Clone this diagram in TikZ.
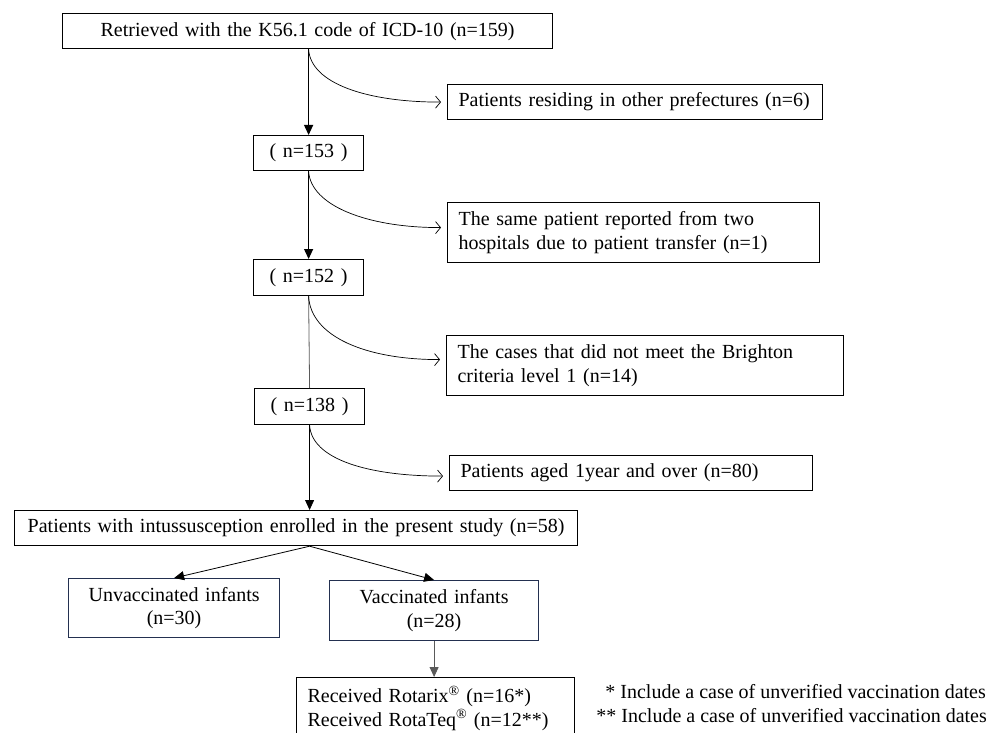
\documentclass[tikz,border=0pt]{standalone}
\usepackage{fontspec}
\setmainfont{Liberation Serif}
\usetikzlibrary{arrows.meta}
\definecolor{navyb}{RGB}{35,48,80}
\definecolor{grayline}{RGB}{90,90,90}
\begin{document}
\begin{tikzpicture}[x=1pt,y=-1pt,
  txt/.style={font=\fontsize{20}{23.5}\selectfont},
  box/.style={txt, draw=black, line width=1.2pt, rectangle, anchor=north west, inner ysep=0pt},
  cbox/.style={box, align=center, inner xsep=0pt},
  lbox/.style={box, align=left, inner xsep=11pt},
  nbox/.style={cbox, draw=navyb},
  mainarrow/.style={line width=1.2pt, -{Triangle[width=9pt,length=10pt]}},
  thinarrow/.style={line width=0.8pt, -{Triangle[width=9pt,length=10pt]}},
  plainline/.style={line width=0.8pt, draw=grayline},
  curvearrow/.style={line width=0.7pt, -{Straight Barb[length=5pt,width=12pt]}}
]
\useasboundingbox (0,0) rectangle (988,733);
\clip (0,0) rectangle (988,733);

% main column
\node[cbox, minimum width=490pt, minimum height=35pt, text width=490pt] (top) at (62,13) {Retrieved with the K56.1 code of ICD-10 (n=159)};
\node[cbox, minimum width=110pt, minimum height=35pt, text width=110pt] (n153) at (253,135) {( n=153 )};
\node[cbox, minimum width=110pt, minimum height=36pt, text width=110pt] (n152) at (253,259) {( n=152 )};
\node[cbox, minimum width=110pt, minimum height=36pt, text width=110pt] (n138) at (254,388) {( n=138 )};
\node[cbox, minimum width=563pt, minimum height=35pt, text width=563pt] (enrolled) at (14,510) {Patients with intussusception enrolled in the present study (n=58)};
\node[nbox, minimum width=211pt, minimum height=59pt, text width=211pt] (unvac) at (68,578) {Unvaccinated infants\\(n=30)};
\node[nbox, minimum width=209pt, minimum height=60pt, text width=209pt] (vac) at (329,580) {Vaccinated infants\\(n=28)};
\node[lbox, minimum width=278pt, minimum height=61pt, text width=256pt] (rec) at (296,677) {Received Rotarix\textsuperscript{®} (n=16*)\\Received RotaTeq\textsuperscript{®} (n=12**)};

% side boxes
\node[lbox, minimum width=375pt, minimum height=35pt, text width=353pt] (A) at (447,84) {Patients residing in other prefectures (n=6)};
\node[lbox, minimum width=372pt, minimum height=60pt, text width=350pt] (B) at (447,202) {The same patient reported from two\\hospitals due to patient transfer (n=1)};
\node[lbox, minimum width=397pt, minimum height=60pt, text width=375pt] (C) at (446,335) {The cases that did not meet the Brighton\\criteria level 1 (n=14)};
\node[lbox, minimum width=363pt, minimum height=35pt, text width=341pt] (D) at (449,455) {Patients aged 1year and over (n=80)};

% footnotes
\node[txt, anchor=east, inner sep=0pt] (f1) at (986,692) {* Include a case of unverified vaccination dates};
\node[txt, anchor=east, inner sep=0pt] (f2) at (987,716) {** Include a case of unverified vaccination dates};

% main connectors
\coordinate (s1) at (top.south -| n153.north);
\coordinate (s2) at (n153.south);
\coordinate (s3) at (n152.south);
\coordinate (s4) at (n138.south);
\draw[mainarrow] (s1) -- (n153.north);
\draw[mainarrow] (s2) -- (n152.north);
\draw[plainline] (s3) -- (n138.north);
\draw[thinarrow] (s4) -- (s4 |- enrolled.north);

% side curves
\draw[curvearrow] (s1) .. controls +(2,34) and +(-75,0) .. ([xshift=-6pt]A.west);
\draw[curvearrow] (s2) .. controls +(2,34) and +(-75,0) .. ([xshift=-6pt,yshift=5pt]B.west);
\draw[curvearrow] (s3) .. controls +(2,40) and +(-75,0) .. ([xshift=-6pt,yshift=6pt]C.west);
\draw[curvearrow] (s4) .. controls +(2,34) and +(-75,0) .. ([xshift=-6pt,yshift=-3pt]D.west);

% lower connectors
\coordinate (s5) at (enrolled.south -| n138.south);
\draw[thinarrow] (s5) -- (unvac.north);
\draw[thinarrow] (s5) -- (vac.north);
\draw[thinarrow, draw=grayline] (vac.south) -- (vac.south |- rec.north);
\end{tikzpicture}
\end{document}
